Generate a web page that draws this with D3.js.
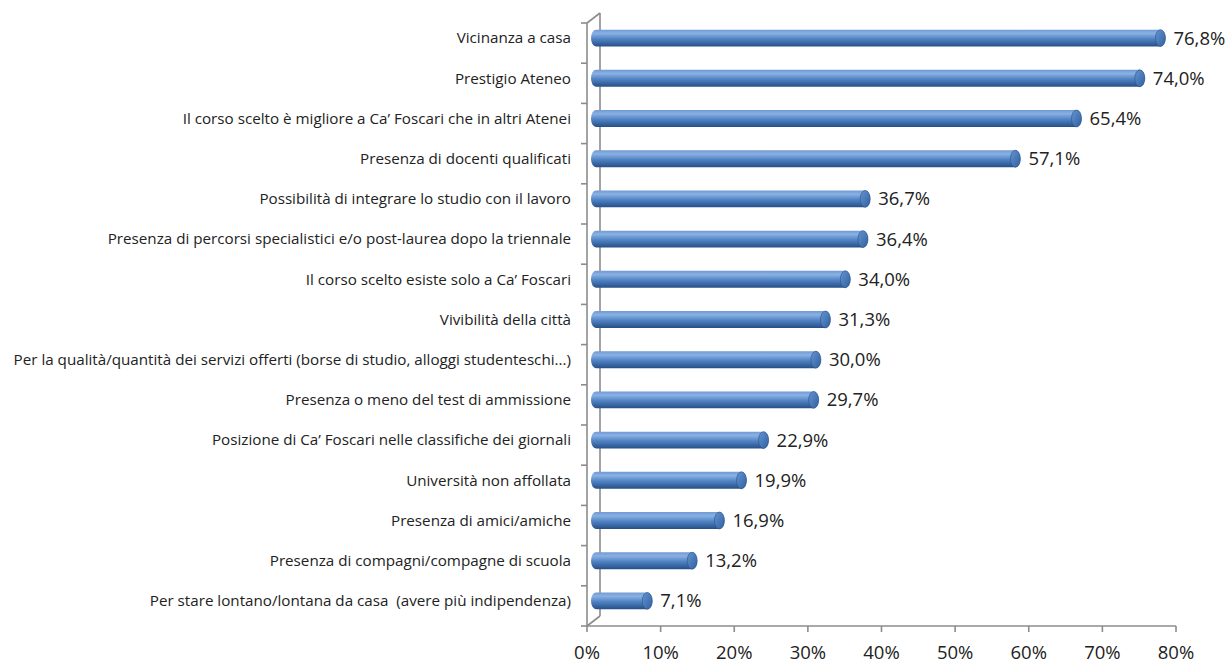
<!DOCTYPE html>
<html>
<head>
<meta charset="utf-8">
<script src="https://cdn.jsdelivr.net/npm/d3@7"></script>
<style>
  body { margin: 0; background: #fff; }
  text { font-family: "Open Sans", sans-serif; fill: #222; white-space: pre; }
</style>
</head>
<body>
<div id="chart"></div>
<script>
const categories = [
  "Vicinanza a casa",
  "Prestigio Ateneo",
  "Il corso scelto è migliore a Ca’ Foscari che in altri Atenei",
  "Presenza di docenti qualificati",
  "Possibilità di integrare lo studio con il lavoro",
  "Presenza di percorsi specialistici e/o post-laurea dopo la triennale",
  "Il corso scelto esiste solo a Ca’ Foscari",
  "Vivibilità della città",
  "Per la qualità/quantità dei servizi offerti (borse di studio, alloggi studenteschi...)",
  "Presenza o meno del test di ammissione",
  "Posizione di Ca’ Foscari nelle classifiche dei giornali",
  "Università non affollata",
  "Presenza di amici/amiche",
  "Presenza di compagni/compagne di scuola",
  "Per stare lontano/lontana da casa  (avere più indipendenza)"
];
const values = [76.8, 74.0, 65.4, 57.1, 36.7, 36.4, 34.0, 31.3, 30.0, 29.7, 22.9, 19.9, 16.9, 13.2, 7.1];
const tickValues = [0, 10, 20, 30, 40, 50, 60, 70, 80];

const width = 1226, height = 666;
const margin = { top: 23, bottom: 40, left: 587, right: 50 };
const depth = { dx: 13, dy: -10 };   // offset of back wall
const barStart = 4, barEnd = 13;     // bars run from near the front to the back wall depth
const barShiftY = -5;

const svg = d3.select("#chart").append("svg")
  .attr("width", width)
  .attr("height", height);

const x = d3.scaleLinear().domain([0, 80]).range([margin.left, 1176]);
const y = d3.scaleBand().domain(d3.range(categories.length))
  .range([margin.top, height - margin.bottom]).paddingInner(0.58).paddingOuter(0.29);
const band = d3.scaleBand().domain(d3.range(categories.length))
  .range([margin.top, height - margin.bottom]);

const defs = svg.append("defs");
const grad = defs.append("linearGradient").attr("id", "barGrad")
  .attr("x1", 0).attr("y1", 0).attr("x2", 0).attr("y2", 1);
grad.append("stop").attr("offset", "0%").attr("stop-color", "#6f9ad3");
grad.append("stop").attr("offset", "22%").attr("stop-color", "#8ab1e3");
grad.append("stop").attr("offset", "55%").attr("stop-color", "#5083c4");
grad.append("stop").attr("offset", "100%").attr("stop-color", "#264f86");

const capGrad = defs.append("linearGradient").attr("id", "capGrad")
  .attr("x1", 0).attr("y1", 0).attr("x2", 1).attr("y2", 1);
capGrad.append("stop").attr("offset", "0%").attr("stop-color", "#6694d0");
capGrad.append("stop").attr("offset", "100%").attr("stop-color", "#2f60a0");

const axisColor = "#8c8c8c";
const bottomY = height - margin.bottom;

// 3D frame: front axis, back wall edge and connecting diagonals
const frame = svg.append("g").attr("stroke", axisColor).attr("stroke-width", 1.6).attr("fill", "none");
frame.append("line").attr("x1", x(0)).attr("x2", x(0)).attr("y1", margin.top).attr("y2", bottomY);
frame.append("line").attr("x1", x(0) + depth.dx).attr("x2", x(0) + depth.dx)
  .attr("y1", margin.top + depth.dy).attr("y2", bottomY + depth.dy);
frame.append("line").attr("x1", x(0)).attr("y1", margin.top)
  .attr("x2", x(0) + depth.dx).attr("y2", margin.top + depth.dy);
frame.append("line").attr("x1", x(0)).attr("y1", bottomY)
  .attr("x2", x(0) + depth.dx).attr("y2", bottomY + depth.dy);
frame.append("line").attr("x1", x(0)).attr("x2", x(80)).attr("y1", bottomY).attr("y2", bottomY);

// category ticks on the front axis
frame.selectAll("line.ytick")
  .data(d3.range(categories.length + 1))
  .join("line")
    .attr("class", "ytick")
    .attr("x1", x(0) - 6).attr("x2", x(0))
    .attr("y1", i => i < categories.length ? band(i) : bottomY)
    .attr("y2", i => i < categories.length ? band(i) : bottomY);

// x ticks and labels
const xt = svg.append("g");
xt.selectAll("line")
  .data(tickValues)
  .join("line")
    .attr("x1", d => x(d)).attr("x2", d => x(d))
    .attr("y1", bottomY).attr("y2", bottomY + 6)
    .attr("stroke", axisColor).attr("stroke-width", 1.6);
xt.selectAll("text")
  .data(tickValues)
  .join("text")
    .attr("x", d => x(d))
    .attr("y", bottomY + 33)
    .attr("text-anchor", "middle")
    .style("font-size", "18.5px")
    .text(d => d + "%");

// bars
const barH = y.bandwidth();
const capRx = 5;
const bars = svg.append("g").selectAll("g")
  .data(values)
  .join("g")
    .attr("transform", (d, i) => `translate(0,${y(i) + barShiftY})`);

bars.append("rect")
  .attr("x", x(0) + barStart)
  .attr("y", 0)
  .attr("width", d => x(d) + barEnd - x(0) - barStart)
  .attr("height", barH)
  .attr("rx", capRx).attr("ry", barH / 2)
  .attr("fill", "url(#barGrad)");

bars.append("ellipse")
  .attr("cx", d => x(d) + barEnd - capRx)
  .attr("cy", barH / 2)
  .attr("rx", capRx)
  .attr("ry", barH / 2)
  .attr("fill", "url(#capGrad)")
  .attr("stroke", "#2a5289")
  .attr("stroke-width", 0.6);

// value labels
bars.append("text")
  .attr("x", d => x(d) + barEnd + 8)
  .attr("y", barH / 2)
  .attr("dy", "0.35em")
  .style("font-size", "18.5px")
  .text(d => d.toFixed(1).replace(".", ",") + "%");

// category labels
svg.append("g").selectAll("text")
  .data(categories)
  .join("text")
    .attr("x", 571)
    .attr("y", (d, i) => y(i) + barShiftY + barH / 2)
    .attr("dy", "0.35em")
    .attr("text-anchor", "end")
    .style("font-size", "15.2px")
    .text(d => d);
</script>
</body>
</html>
